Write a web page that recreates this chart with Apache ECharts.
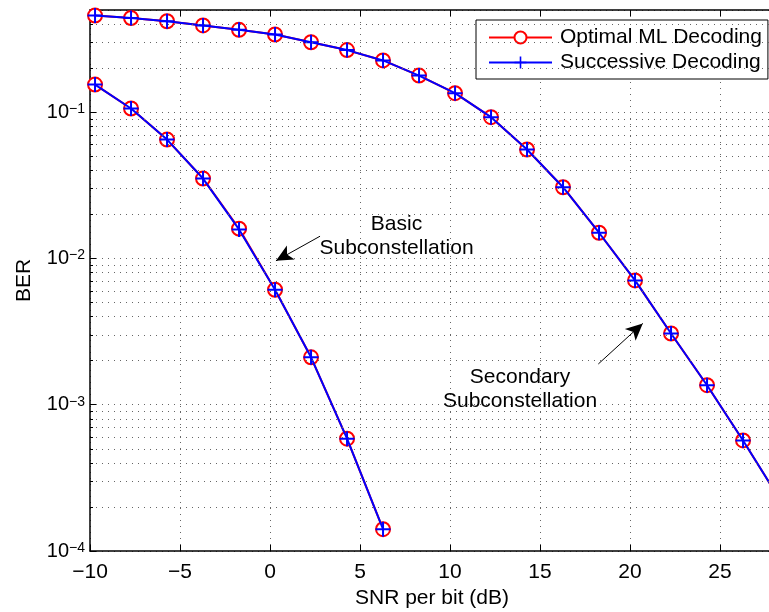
<!DOCTYPE html>
<html>
<head>
<meta charset="utf-8">
<script src="https://cdn.jsdelivr.net/npm/echarts@6/dist/echarts.min.js"></script>
<style>html,body{margin:0;padding:0;background:#fff;}#c{width:769px;height:612px;}</style>
</head>
<body>
<div id="c"></div>
<script>
// ---- data ----
const snrBasic = [-9.72, -7.72, -5.72, -3.72, -1.72, 0.28, 2.28, 4.28, 6.28];
const berBasicML = [0.1545, 0.106, 0.065, 0.0352, 0.016, 0.00611, 0.00211, 0.000586, 0.000141];
const berBasicSD = [0.1545, 0.106, 0.065, 0.0352, 0.0158, 0.00611, 0.00211, 0.000586, 0.000141];
const snrSecondary = [-9.72, -7.72, -5.72, -3.72, -1.72, 0.28, 2.28, 4.28, 6.28, 8.28,
                      10.28, 12.28, 14.28, 16.28, 18.28, 20.28, 22.28, 24.28, 26.28, 28.28];
const berSecondaryML = [0.458, 0.441, 0.419, 0.392, 0.366, 0.340, 0.301, 0.266, 0.226, 0.178,
                        0.135, 0.0925, 0.0556, 0.0307, 0.0150, 0.00708, 0.00307, 0.00136, 0.00057, 0.00023];
const berSecondarySD = [0.458, 0.441, 0.419, 0.392, 0.366, 0.340, 0.301, 0.266, 0.226, 0.178,
                        0.135, 0.0925, 0.0556, 0.0307, 0.0150, 0.00708, 0.00307, 0.00136, 0.00057, 0.00023];
const xTicks = [-10, -5, 0, 5, 10, 15, 20, 25];
const yDecades = [1e-4, 1e-3, 1e-2, 1e-1];
const minorMultipliers = [2, 3, 4, 5, 6, 7, 8, 9];
const seriesNames = ['Optimal ML Decoding', 'Successive Decoding'];
const annotations = [
  {text: 'Basic\nSubconstellation', at: [7.03, 0.0142], from: [2.78, 0.0142], to: [0.33, 0.00964]},
  {text: 'Secondary\nSubconstellation', at: [13.89, 0.00128], from: [18.24, 0.0019], to: [20.71, 0.0036]}
];

const FONT = 'Liberation Sans, Arial, Helvetica, sans-serif';
const FS = 21;
const xMin = -10, xMax = 28, yMin = 1e-4, yMax = 0.5;

function pairs(xs, ys) { return xs.map((x, i) => [x, ys[i]]); }

const minorVals = [];
yDecades.forEach(d => minorMultipliers.forEach(m => { const v = d * m; if (v < yMax) minorVals.push(v); }));

const dotted = {color: '#666', width: 1, type: [1, 5]};
const gridLines = minorVals.map(v => [{coord: [xMin, v]}, {coord: [xMax, v]}]);
const minorTicks = minorVals.map(v => [{coord: [xMin, v]}, {coord: [xMin + 3 / 18, v]}]);

const plusPath = 'path://M-7.5,-1H7.5V1H-7.5Z M-1,-7.5H1V7.5H-1Z';

function curve(name, xs, ys, isML, z) {
  return {
    name: name, type: 'line', z: z,
    data: pairs(xs, ys),
    symbol: isML ? 'circle' : plusPath,
    symbolSize: isML ? 14 : 15,
    showAllSymbol: true,
    lineStyle: {color: isML ? '#ff0000' : '#0000ff', width: 2},
    itemStyle: isML ? {color: '#fff', borderColor: '#ff0000', borderWidth: 2}
                    : {color: '#0000ff', borderWidth: 0},
    emphasis: {disabled: true},
    animation: false
  };
}

const chart = echarts.init(document.getElementById('c'), null, {renderer: 'canvas'});
const option = {
  animation: false,
  backgroundColor: '#fff',
  textStyle: {fontFamily: FONT},
  grid: {left: 90, top: 10, width: 684, height: 541, containLabel: false, outerBoundsMode: 'none'},
  legend: {
    orient: 'vertical', left: 476, top: 20,
    data: seriesNames,
    padding: [7, 6, 6, 12], itemGap: 4, itemWidth: 63, itemHeight: 15,
    backgroundColor: '#fff', borderColor: '#000', borderWidth: 1,
    textStyle: {fontSize: FS, fontFamily: FONT, color: '#000', padding: [0, 0, 0, 3]},
    selectedMode: false
  },
  xAxis: [{
    type: 'value', min: xMin, max: xMax, interval: 5,
    name: 'SNR per bit (dB)', nameLocation: 'middle', nameGap: 32,
    nameTextStyle: {fontSize: FS, color: '#000', fontFamily: FONT},
    axisLine: {show: true, onZero: false, lineStyle: {color: '#000', width: 1.5}},
    axisTick: {show: true, inside: true, length: 6, lineStyle: {color: '#000'}},
    axisLabel: {fontSize: FS, color: '#000', margin: 11, showMaxLabel: false,
      formatter: v => (xTicks.indexOf(v) < 0 ? '' : (v < 0 ? '\u2212' + (-v) : '' + v))},
    splitLine: {show: true, lineStyle: dotted}
  }, {
    type: 'value', min: xMin, max: xMax, interval: 5, position: 'top',
    axisLine: {show: true, onZero: false, lineStyle: {color: '#000', width: 1.5}},
    axisTick: {show: true, inside: true, length: 6, lineStyle: {color: '#000'}},
    axisLabel: {show: false}, splitLine: {show: false}
  }],
  yAxis: {
    type: 'log', logBase: 10, min: yMin, max: yMax,
    name: 'BER', nameLocation: 'middle', nameGap: 55,
    nameTextStyle: {fontSize: FS, color: '#000', fontFamily: FONT},
    axisLine: {show: true, onZero: false, lineStyle: {color: '#000', width: 1.5}},
    axisTick: {show: true, inside: true, length: 6, lineStyle: {color: '#000'}},
    axisLabel: {
      color: '#000', margin: 5, showMaxLabel: false,
      formatter: v => {
        const e = Math.log10(v), r = Math.round(e);
        if (Math.abs(e - r) > 1e-6) return '';
        return '{b|10}{s|\u2212' + (-r) + '}';
      },
      rich: {
        b: {fontSize: 20, fontFamily: FONT, color: '#000', lineHeight: 20, padding: [7, 0, 0, 0], verticalAlign: 'bottom'},
        s: {fontSize: 14, fontFamily: FONT, color: '#000', lineHeight: 14, verticalAlign: 'top'}
      }
    },
    splitLine: {show: true, lineStyle: dotted}
  },
  series: [
    {
      type: 'line', name: 'grid', data: [], z: 1, silent: true,
      markLine: {
        silent: true, symbol: ['none', 'none'], animation: false,
        label: {show: false}, emphasis: {disabled: true},
        lineStyle: dotted,
        data: gridLines.concat(minorTicks.map(t => [Object.assign({lineStyle: {color: '#000', width: 1, type: 'solid'}}, t[0]), t[1]]))
      }
    },
    curve(seriesNames[0], snrBasic, berBasicML, true, 2),
    curve(seriesNames[0], snrSecondary, berSecondaryML, true, 2),
    curve(seriesNames[1], snrBasic, berBasicSD, false, 3),
    curve(seriesNames[1], snrSecondary, berSecondarySD, false, 3),
    {
      type: 'line', name: 'notes', data: [], z: 5, silent: true,
      markLine: {
        silent: true, animation: false, symbol: ['none', 'arrow'], symbolSize: [12, 17],
        label: {show: false}, emphasis: {disabled: true},
        lineStyle: {color: '#000', width: 1, type: 'solid'},
        itemStyle: {color: '#000'},
        data: annotations.map(a => [{coord: a.from}, {coord: a.to}])
      },
      markPoint: {
        silent: true, animation: false, symbol: 'rect', symbolSize: 1,
        itemStyle: {color: 'rgba(0,0,0,0)'},
        label: {show: true, position: 'inside', fontSize: FS, lineHeight: 24, color: '#000',
                fontFamily: FONT, align: 'center'},
        data: annotations.map(a => ({coord: a.at, label: {formatter: a.text}}))
      }
    }
  ]
};
chart.setOption(option);
</script>
</body>
</html>
